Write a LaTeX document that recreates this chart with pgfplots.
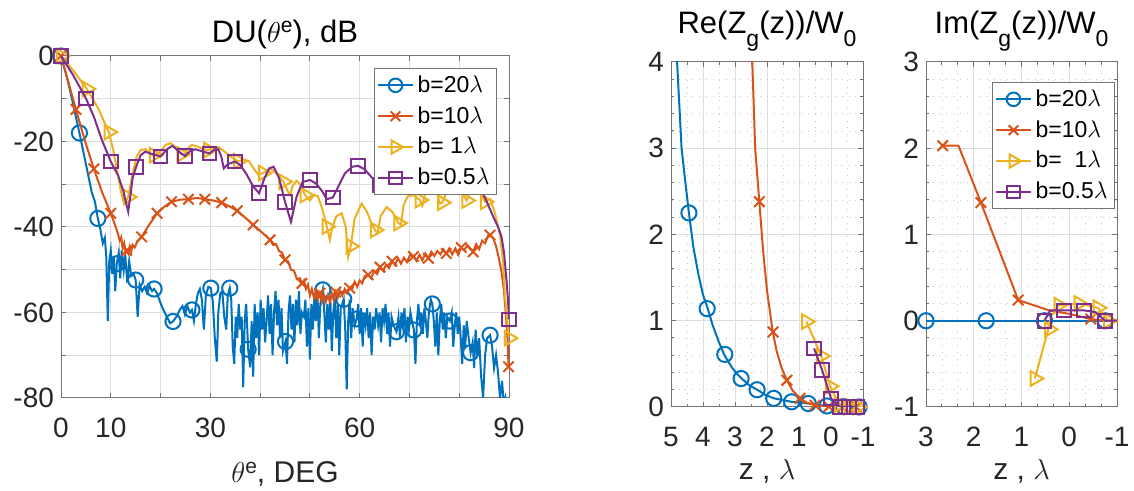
\documentclass[border=0pt]{standalone}
\usepackage{pgfplots}
\pgfplotsset{compat=1.18}
\usepackage{fontspec}
\setmainfont{Liberation Sans}
\definecolor{mblue}{rgb}{0,0.447,0.741}
\definecolor{morange}{rgb}{0.85,0.325,0.098}
\definecolor{myellow}{rgb}{0.929,0.694,0.125}
\definecolor{mpurple}{rgb}{0.494,0.184,0.556}
\newcommand{\sups}[1]{\raisebox{4.8pt}{\fontsize{10.5}{12}\selectfont #1}}
\newcommand{\subs}[1]{\raisebox{-6.5pt}{\fontsize{11.5}{12}\selectfont #1}}
\pgfplotsset{
  mystyle/.style={
    scale only axis,
    anchor=south west,
    clip mode=individual,
    axis line style={black!55, line width=0.5pt},
    tick align=inside,
    major tick length=2.5pt,
    minor tick length=1.5pt,
    tick style={black!55, line width=0.5pt},
    major grid style={black!13, line width=0.5pt},
    minor grid style={black!22, dash pattern=on 0.4pt off 3pt, line width=0.4pt},
    tick label style={font=\fontsize{14}{16}\selectfont, text=black!85},
    /pgf/number format/assume math mode=true,
    every axis title/.style={at={(0.5,1)}, anchor=base, font=\fontsize{15.5}{17}\selectfont, text=black},
    every axis x label/.style={at={(0.5,0)}, anchor=base, font=\fontsize{15}{17}\selectfont, text=black!85},
    xticklabel style={anchor=base, yshift=-19.8pt},
    legend cell align=left,
    legend style={font=\fontsize{11.5}{13}\selectfont, draw=black!55, line width=0.5pt, fill=white, inner sep=1.5pt, row sep=1.6pt},
  },
  lb/.style={mblue, line width=1pt},
  lo/.style={morange, line width=1pt},
  ly/.style={myellow, line width=1pt},
  lp/.style={mpurple, line width=1pt},
  mb/.style={mblue, line width=1pt, only marks, mark=o, mark size=3.8pt},
  mo/.style={morange, line width=1pt, only marks, mark=x, mark size=3.7pt},
  my/.style={myellow, line width=1pt, only marks, mark=triangle, mark size=4.2pt, mark options={rotate=-90}},
  mp/.style={mpurple, line width=1pt, only marks, mark=square, mark size=3.4pt},
}
\begin{document}
\begin{tikzpicture}[x=1pt,y=1pt]
\useasboundingbox (0,0) rectangle (567,245.5);
% ---------------- left axis ----------------
\begin{axis}[mystyle, at={(30.5pt,46.5pt)}, width=224pt, height=171pt,
  xmin=0, xmax=90, ymin=-80, ymax=0, grid=major,
  xtick={0,10,...,90}, xticklabels={0,10,,30,,,60,,,90},
  ytick={-80,-70,...,0}, yticklabels={-80,,-60,,-40,,-20,,0},
  title={DU($\theta$\sups{e}), dB}, title style={yshift=6.7pt},
  xlabel={$\theta$\sups{e}, DEG}, xlabel style={yshift=-42.5pt},
  legend style={at={(1,1)}, anchor=north east, xshift=-6pt, yshift=-6pt},
]
\addlegendimage{mblue, line width=1pt, mark=o, mark size=3.4pt}
\addlegendentry{b=20$\lambda$}
\addlegendimage{morange, line width=1pt, mark=x, mark size=3.4pt}
\addlegendentry{b=10$\lambda$}
\addlegendimage{myellow, line width=1pt, mark=triangle, mark size=3.8pt, mark options={rotate=-90}}
\addlegendentry{b=\ 1$\lambda$}
\addlegendimage{mpurple, line width=1pt, mark=square, mark size=3.1pt}
\addlegendentry{b=0.5$\lambda$}
% blue line
\addplot[lb, forget plot] coordinates {
(0,0) (1.2,-5) (2.4,-11) (3.7,-18) (4.6,-23) (5.4,-27.5) (6.2,-32) (6.8,-34) (7.4,-38) (7.9,-40.5)
(8.4,-43.8) (8.8,-42.5) (9.1,-47) (9.4,-62) (9.7,-48) (10.0,-45.5) (10.3,-51) (10.6,-47) (10.9,-55) (11.2,-48.6)
(11.6,-46) (11.9,-52) (12.2,-45.5) (12.6,-50) (12.9,-46.5) (13.3,-53) (13.7,-48) (14.1,-51.5) (14.6,-51) (15.0,-52.4)
(15.4,-61) (15.8,-53.5) (16.3,-55) (16.8,-54) (17.3,-55.5) (17.8,-53.8) (18.3,-55) (18.7,-54.5) (19.3,-55.5) (19.9,-57.5)
(20.6,-59.5) (21.3,-61) (21.9,-62.5) (22.5,-62.1) (23.2,-61) (23.8,-59.5) (24.4,-58.5) (24.9,-60.5) (25.4,-58.5) (25.9,-60)
(26.3,-59.4) (26.7,-62) (27.1,-58) (27.5,-55.5) (27.9,-54.5) (28.3,-57) (28.7,-64) (29.1,-56) (29.6,-54) (30.1,-54.3)
(30.5,-57.5) (30.9,-66) (31.3,-71.5) (31.6,-60) (32.0,-55.5) (32.4,-55) (32.8,-61) (33.2,-64) (33.5,-56) (33.9,-54.3)
(34.2,-57) (34.5,-68) (34.8,-72) (35.1,-61) (35.4,-66) (35.7,-58) (36.0,-64) (36.3,-61) (36.6,-77.5) (36.9,-62)
(37.2,-58) (37.6,-68.6) (38.0,-72.8) (38.3,-62) (38.6,-75) (38.9,-58) (39.2,-66) (39.5,-60) (39.8,-70) (40.1,-57)
(40.4,-64) (40.7,-59) (41.0,-67) (41.3,-62) (41.6,-56) (41.9,-65) (42.2,-58) (42.5,-70) (42.8,-60) (43.1,-55)
(43.4,-63) (43.7,-57) (44.0,-66) (44.3,-59) (44.6,-69) (45.1,-66.8) (45.4,-72) (45.7,-60) (46.0,-56) (46.3,-64)
(46.6,-58) (46.9,-67) (47.2,-57) (47.5,-63) (47.8,-55) (48.1,-65) (48.4,-60) (48.8,-61) (49.1,-57) (49.4,-68)
(49.7,-59) (50.0,-71) (50.3,-58) (50.6,-64) (50.9,-56) (51.2,-62) (51.5,-55) (51.8,-66) (52.1,-58) (52.6,-54.7)
(52.9,-60) (53.2,-67) (53.5,-58) (53.8,-64) (54.1,-56) (54.4,-69) (54.7,-60) (55.0,-57) (55.3,-66) (55.6,-58)
(55.9,-70) (56.2,-59) (56.8,-56.9) (57.1,-64) (57.4,-78) (57.7,-62) (58.0,-57) (58.3,-66) (58.6,-59) (59.0,-63)
(59.4,-61.5) (59.7,-58) (60.0,-65) (60.3,-59) (60.6,-68) (60.9,-60) (61.2,-63) (61.5,-59) (61.8,-66) (62.1,-60)
(62.4,-70) (62.7,-61) (63.0,-64) (63.3,-59) (63.7,-63) (64.0,-60) (64.3,-67) (64.6,-59) (64.9,-62) (65.2,-58)
(65.5,-65) (65.8,-60) (66.1,-68) (66.4,-61) (66.8,-63) (67.4,-64.5) (67.8,-61) (68.1,-66) (68.4,-60) (68.7,-63)
(69.0,-59) (69.3,-67) (69.6,-61) (69.9,-64) (70.2,-60) (70.5,-62) (70.9,-64.1) (71.2,-72) (71.5,-62) (71.8,-58)
(72.1,-63) (72.4,-60) (72.7,-65) (73.0,-59) (73.3,-62) (73.6,-66) (73.9,-60) (74.3,-57) (74.6,-58) (74.9,-62)
(75.2,-68) (75.5,-60) (75.8,-70) (76.1,-62) (76.4,-58) (76.7,-64) (77.0,-60) (77.3,-66) (77.6,-61) (78.1,-62)
(78.5,-60) (78.8,-68) (79.1,-63) (79.4,-60) (79.7,-65) (80.0,-61) (80.3,-66) (80.6,-72) (80.9,-63) (81.2,-68)
(81.5,-62) (81.9,-66) (82.3,-69.4) (82.7,-67) (83.0,-73) (83.3,-64) (83.6,-70) (84.0,-66) (84.4,-75) (84.8,-80)
(85.2,-70) (85.6,-66) (86.2,-65.3) (86.6,-68) (87.0,-73) (87.4,-70) (87.8,-74) (88.2,-80) (88.6,-76) (89.0,-82)
(89.3,-80) (90,-85)
};
\addplot[mb, forget plot] coordinates {
(0,0) (3.7,-18) (7.4,-38) (11.2,-48.6) (15.0,-52.4) (18.7,-54.5) (22.5,-62.1) (26.3,-59.4) (30.1,-54.3) (33.9,-54.3)
(37.6,-68.6) (45.1,-66.8) (52.6,-54.7) (56.8,-56.9) (59.4,-61.5) (67.4,-64.5) (70.9,-64.1) (74.6,-58) (78.1,-62)
(82.3,-69.4) (86.2,-65.3)
};
% orange
\addplot[lo, forget plot] coordinates {
(0,0) (1.5,-6.2) (3.0,-12.5) (4.8,-19.8) (6.6,-26.4) (8.3,-32.0) (10.0,-36.8) (11.0,-40.0) (11.5,-41.8) (11.8,-43.2)
(12.1,-42.4) (12.4,-45.0) (12.7,-43.8) (13.0,-46.0) (13.2,-45.5) (13.5,-46.2) (13.8,-44.6) (14.1,-45.8) (14.4,-44.2) (14.8,-44.8)
(15.3,-43.5) (16.2,-42.3) (17.7,-39.5) (19.3,-36.8) (20.7,-35.3) (22.2,-34.1) (24.0,-33.6) (25.6,-33.5) (27.3,-33.2) (28.9,-33.5)
(30.6,-33.8) (32.3,-34.3) (33.9,-35.2) (35.4,-36.2) (37.0,-37.8) (38.6,-39.5) (40.3,-41.2) (42.0,-43.0) (42.6,-44.2) (43.2,-44.0)
(43.8,-45.6) (44.4,-46.0) (45.0,-47.7) (45.6,-48.0) (46.2,-50.0) (46.8,-50.2) (47.4,-52.2) (48.0,-52.0) (48.4,-53.2) (48.8,-52.5)
(49.2,-54.5) (49.6,-53.5) (50.0,-56.0) (50.4,-54.5) (50.8,-56.5) (51.2,-55.0) (51.6,-57.0) (52.0,-55.5) (52.4,-57.5) (52.8,-55.8)
(53.2,-57.5) (53.6,-56.0) (54.0,-57.5) (54.4,-55.5) (54.8,-57.2) (55.2,-55.2) (55.6,-56.5) (56.0,-54.8) (56.5,-56.0) (57.0,-54.5)
(57.5,-55.5) (58.0,-54.3) (58.5,-54.5) (59.0,-52.8) (59.5,-54.0) (60.0,-52.5) (60.5,-53.2) (61.0,-51.5) (61.7,-51.2) (62.3,-52.0)
(62.9,-50.3) (63.5,-51.0) (64.1,-49.4) (64.7,-50.3) (65.3,-48.8) (65.9,-49.6) (66.5,-48.0) (67.1,-48.9) (67.7,-47.3) (68.3,-48.6)
(68.9,-47.2) (69.5,-48.2) (70.1,-46.6) (70.8,-46.9) (71.4,-47.9) (72.0,-46.5) (72.6,-47.8) (73.2,-46.2) (73.8,-47.3) (74.4,-45.8)
(75.0,-46.8) (75.6,-45.6) (76.2,-46.4) (76.8,-45.2) (77.4,-46.2) (78.0,-45.0) (78.6,-46.4) (79.2,-45.0) (79.8,-46.5) (80.4,-44.8)
(81.0,-45.5) (81.6,-44.2) (82.2,-45.0) (82.8,-45.8) (83.4,-44.0) (84.0,-45.2) (84.6,-43.2) (85.2,-43.8) (85.8,-42.0) (86.2,-41.9)
(86.8,-42.5) (87.4,-44.5) (88.0,-47.5) (88.5,-50.5) (89.0,-55.0) (89.4,-61.0) (89.7,-66.0) (89.9,-72.7)
};
\addplot[mo, forget plot] coordinates {
(0,0) (3.0,-12.5) (6.6,-26.4) (10,-36.8) (13.2,-45.5) (16.2,-42.3) (19.3,-36.8) (22.2,-34.1) (25.6,-33.5) (28.9,-33.5)
(32.3,-34.3) (35.4,-36.2) (38.6,-39.5) (42,-43) (45,-47.7) (48.4,-53.2) (52,-55.5) (55.2,-55.2) (58,-54.3) (61.7,-51.2)
(64.1,-49.4) (66.5,-48.0) (70.8,-46.9) (73.8,-47.3) (77.4,-46.2) (80.4,-44.8) (82.8,-45.8) (86.2,-41.9) (89.9,-72.7)
};
% yellow
\addplot[ly, forget plot] coordinates {
(0,0) (2.6,-3.6) (5.2,-7.7) (7.5,-12.3) (9.6,-17.8) (10.5,-22) (11.3,-27) (12.0,-31.5) (12.6,-34.2) (13.1,-33.8)
(13.5,-33) (14.3,-28) (15.2,-23.5) (16.0,-22) (17.0,-21.8) (18.0,-23) (18.7,-23.2) (19.8,-22.6) (21.0,-20.8) (22.0,-20.4)
(23.2,-21.5) (24.2,-23.0) (24.9,-22.8) (25.6,-21.5) (26.3,-20.8) (27.5,-21.2) (28.6,-21.8) (29.6,-22.0) (30.6,-21.5) (31.6,-21.3)
(32.8,-22.3) (34.0,-23.5) (35.6,-24.6) (36.7,-24.3) (37.7,-24.5) (38.8,-26.5) (39.6,-27.7) (40.6,-27.4) (42.0,-26.3) (43.3,-27.5)
(44.7,-29.4) (45.5,-31.5) (46.0,-32.5) (46.5,-30.5) (47.3,-29.2) (48.2,-30.2) (49.0,-32.5) (50.0,-33.8) (50.8,-32.5) (51.6,-32.8)
(52.5,-35.8) (53.4,-39.9) (54.0,-43.0) (54.5,-40.0) (55.3,-37.5) (56.4,-36.8) (57.2,-40.0) (57.7,-47.0) (58.2,-44.5) (59.0,-38.0)
(60.4,-34.5) (61.5,-36.5) (62.3,-39.0) (63.1,-40.7) (63.6,-41.5) (64.2,-37.5) (65.4,-35.3) (66.6,-36.5) (67.8,-39.1) (68.3,-39.5)
(68.8,-35.0) (69.6,-32.9) (70.8,-32.5) (72.1,-33.7) (72.6,-35.0) (73.3,-31.5) (74.5,-30.2) (75.5,-32.0) (76.1,-34.5) (76.6,-34.3)
(77.4,-32.0) (78.5,-30.5) (79.8,-30.2) (80.8,-32.5) (81.5,-33.8) (82.2,-31.5) (83.4,-30.5) (84.4,-32.5) (85.2,-34.1) (86.2,-33.5)
(87.2,-36.8) (88.2,-42.0) (88.8,-48.0) (89.2,-56.3) (89.6,-61.5) (90.0,-66.0)
};
\addplot[my, forget plot] coordinates {
(0,0) (5.2,-7.7) (9.6,-17.8) (13.5,-33) (18.7,-23.2) (24.2,-23.0) (29.6,-22.0) (35.6,-24.6) (40.6,-27.4) (44.7,-29.4)
(49.0,-32.5) (53.4,-39.9) (58.2,-44.5) (63.1,-40.7) (67.8,-39.1) (72.1,-33.7) (76.6,-34.3) (81.5,-33.8) (85.2,-34.1) (90.0,-66.0)
};
% purple
\addplot[lp, forget plot] coordinates {
(0,0) (2.5,-4.6) (5.0,-9.9) (6.6,-14.2) (8.2,-19.6) (10.0,-24.7) (11.5,-28.0) (12.5,-31.5) (13.2,-35.0) (13.5,-36.4)
(13.9,-33.0) (14.4,-28.5) (15.1,-25.9) (16.0,-23.2) (16.9,-22.4) (18.5,-23.0) (20.0,-23.5) (21.3,-21.8) (22.4,-21.0) (23.6,-22.3)
(24.9,-23.4) (25.9,-22.3) (26.9,-21.8) (28.4,-22.3) (29.8,-22.8) (30.8,-21.9) (31.6,-21.8) (32.2,-23.5) (32.7,-26.3) (33.5,-25.3)
(35.0,-24.7) (36.0,-25.5) (37.2,-27.5) (38.6,-30.5) (39.8,-32.1) (40.8,-28.8) (41.8,-26.3) (42.7,-25.9) (43.8,-28.5) (45.0,-34.1)
(46.2,-38.8) (47.3,-33.0) (48.5,-29.5) (50.0,-29.0) (51.2,-29.8) (52.4,-31.5) (53.4,-33.5) (54.6,-33.1) (55.5,-31.0) (57.0,-27.5)
(58.5,-25.9) (59.7,-25.7) (61.0,-26.5) (62.5,-28.5) (64.1,-30.2) (65.5,-28.5) (67.0,-26.5) (69.0,-27.0) (71.0,-29.5) (73.0,-27.0)
(75.0,-26.0) (77.0,-28.0) (79.0,-27.0) (81.0,-26.0) (83.0,-28.0) (84.5,-31.5) (85.5,-34.0) (86.8,-37.5) (87.8,-40.0) (88.5,-42.3)
(89.0,-46.0) (89.5,-52.4) (89.8,-57.0) (90.0,-61.6)
};
\addplot[mp, forget plot] coordinates {
(0,0) (5.0,-9.9) (10.0,-24.7) (15.1,-25.9) (20.0,-23.5) (24.9,-23.4) (29.8,-22.8) (35.0,-24.7) (39.8,-32.1) (45.0,-34.1)
(50.0,-29.0) (54.6,-33.1) (59.7,-25.7) (64.1,-30.2) (69.0,-27.0) (74.0,-26.5) (79.0,-27.0) (84.0,-30.0) (90.0,-61.6)
};
\end{axis}
% ---------------- middle axis ----------------
\begin{axis}[mystyle, at={(335.5pt,42pt)}, width=96pt, height=172.5pt,
  xmin=-1, xmax=5, ymin=0, ymax=4, x dir=reverse, grid=both,
  xtick={-1,0,...,5}, ytick={0,1,...,4},
  minor x tick num=1, minor y tick num=4,
  title={Re(Z\subs{g}(z))/W\subs{0}}, title style={yshift=14.4pt},
  xlabel={z , $\lambda$}, xlabel style={yshift=-36.5pt},
]
\addplot[lb] coordinates {
(4.95,5) (4.81,4.0) (4.67,3.0) (4.55,2.6) (4.44,2.25) (4.3,1.85) (4.15,1.55) (4.0,1.3) (3.85,1.14) (3.7,0.95)
(3.5,0.75) (3.33,0.60) (3.1,0.46) (2.95,0.39) (2.79,0.33) (2.55,0.25) (2.30,0.20) (2.05,0.14) (1.78,0.10) (1.5,0.08)
(1.23,0.06) (0.97,0.05) (0.71,0.04) (0.42,0.025) (0.13,0.012) (-0.14,0.007) (-0.41,0.005) (-0.67,0.002) (-0.93,0.0)
};
\addplot[mb] coordinates {
(4.44,2.25) (3.87,1.14) (3.32,0.61) (2.81,0.33) (2.31,0.20) (1.79,0.10) (1.23,0.06) (0.71,0.04) (0.13,0.012) (-0.39,0.005) (-0.88,0.0)
};
\addplot[lo] coordinates {
(2.5,4.6) (2.46,4.0) (2.37,3.0) (2.24,2.38) (2.12,1.8) (2.0,1.35) (1.9,1.08) (1.82,0.87) (1.7,0.65) (1.55,0.46)
(1.38,0.31) (1.2,0.19) (0.97,0.10) (0.75,0.05) (0.5,0.02) (0.2,0.008) (-0.1,0.003) (-0.5,0.0) (-1.0,0.0)
};
\addplot[mo] coordinates {
(2.24,2.38) (1.81,0.87) (1.38,0.31) (0.97,0.10) (0.5,0.02) (0.07,0.005) (-0.36,0.0) (-0.79,0.0)
};
\addplot[ly] coordinates {
(0.77,0.99) (0.30,0.59) (0.03,0.24) (-0.25,0.03) (-0.55,0.0) (-0.85,0.0) (-1.05,0.0)
};
\addplot[my] coordinates {
(0.77,0.99) (0.30,0.59) (0.03,0.24) (-0.25,0.03) (-0.55,0.0) (-0.85,0.0) (-1.08,0.0)
};
\addplot[lp] coordinates {
(0.53,0.68) (0.28,0.43) (0.0,0.10) (-0.28,0.0) (-0.56,0.0) (-0.82,0.0)
};
\addplot[mp] coordinates {
(0.53,0.68) (0.28,0.43) (0.0,0.10) (-0.28,0.0) (-0.56,0.0) (-0.82,0.0)
};
\end{axis}
% ---------------- right axis ----------------
\begin{axis}[mystyle, at={(463pt,42pt)}, width=95.5pt, height=172.5pt,
  xmin=-1, xmax=3, ymin=-1, ymax=3, x dir=reverse, grid=both,
  xtick={-1,0,...,3}, ytick={-1,0,...,3},
  minor x tick num=2, minor y tick num=4,
  title={Im(Z\subs{g}(z))/W\subs{0}}, title style={yshift=14.4pt},
  xlabel={z , $\lambda$}, xlabel style={yshift=-36.5pt},
  legend style={at={(1,1)}, anchor=north east, xshift=-1pt, yshift=-10pt},
]
\addlegendimage{mblue, line width=1pt, mark=o, mark size=3.4pt}
\addlegendentry{b=20$\lambda$}
\addlegendimage{morange, line width=1pt, mark=x, mark size=3.4pt}
\addlegendentry{b=10$\lambda$}
\addlegendimage{myellow, line width=1pt, mark=triangle, mark size=3.8pt, mark options={rotate=-90}}
\addlegendentry{b=\ \ 1$\lambda$}
\addlegendimage{mpurple, line width=1pt, mark=square, mark size=3.1pt}
\addlegendentry{b=0.5$\lambda$}
\addplot[lb, forget plot] coordinates {(3.0,0) (1.74,0) (0.52,0) (-0.75,0) (-1.0,0)};
\addplot[mb, forget plot] coordinates {(3.0,0) (1.74,0) (0.52,0) (-0.75,0)};
\addplot[lo, forget plot] coordinates {
(2.65,2.03) (2.32,2.03) (1.85,1.37) (1.07,0.24) (0.42,0.12) (0.0,0.08) (-0.45,0.02) (-0.75,0.0) (-1.0,0.0)
};
\addplot[mo, forget plot] coordinates {(2.65,2.03) (1.85,1.37) (1.07,0.24) (-0.45,0.02)};
\addplot[ly, forget plot] coordinates {
(0.72,-0.67) (0.45,-0.12) (0.38,0.05) (0.22,0.18) (-0.2,0.2) (-0.6,0.15) (-0.82,0.0) (-1.05,0.0)
};
\addplot[my, forget plot] coordinates {
(0.72,-0.67) (0.42,-0.10) (0.22,0.18) (-0.2,0.2) (-0.6,0.15) (-0.82,0.0) (-1.05,0.0)
};
\addplot[lp, forget plot] coordinates {
(0.52,0.0) (0.40,0.12) (0.11,0.12) (-0.31,0.12) (-0.55,0.10) (-0.75,0.0) (-1.0,0.0)
};
\addplot[mp, forget plot] coordinates {(0.52,0.0) (0.11,0.12) (-0.31,0.12) (-0.75,0.0)};
\end{axis}
\end{tikzpicture}
\end{document}
